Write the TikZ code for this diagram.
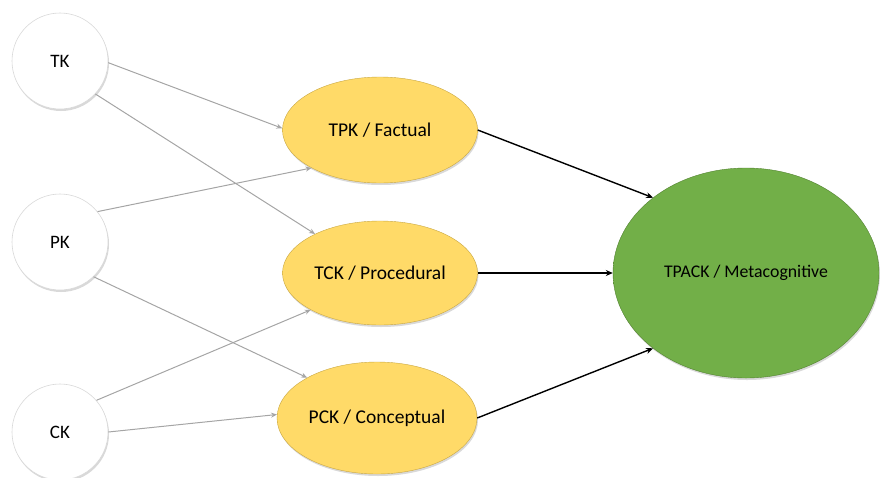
\documentclass[tikz,border=0pt]{standalone}
\usepackage{fontspec}
\setmainfont{Carlito}
\usetikzlibrary{shapes.geometric,arrows.meta,shadows}
\definecolor{ylc}{RGB}{255,218,104}
\definecolor{yle}{RGB}{236,196,78}
\definecolor{grc}{RGB}{114,175,72}
\definecolor{gre}{RGB}{96,152,56}
\definecolor{whc}{RGB}{255,255,255}
\definecolor{whe}{RGB}{232,232,232}
\definecolor{lnk}{RGB}{165,165,165}
\pgfdeclareradialshading{ylsh}{\pgfpoint{0bp}{0bp}}{color(0bp)=(ylc); color(34bp)=(ylc); color(47bp)=(yle); color(50bp)=(yle)}
\pgfdeclareradialshading{grsh}{\pgfpoint{0bp}{0bp}}{color(0bp)=(grc); color(36bp)=(grc); color(48bp)=(gre); color(50bp)=(gre)}
\pgfdeclareradialshading{whsh}{\pgfpoint{0bp}{-8bp}}{color(0bp)=(whc); color(28bp)=(whc); color(46bp)=(whe); color(50bp)=(whe)}
\tikzset{
  know/.style={circle, minimum size=96pt, inner sep=0pt, draw=gray!30, line width=0.6pt,
    shading=whsh,
    drop shadow={opacity=0.3, shadow xshift=1pt, shadow yshift=-2pt, fill=gray},
    font=\fontsize{19}{21}\selectfont},
  level/.style={ellipse, inner sep=0pt, draw=yle!85!black, line width=0.4pt,
    shading=ylsh,
    drop shadow={opacity=0.3, shadow xshift=1pt, shadow yshift=-2pt, fill=gray},
    font=\fontsize{19.5}{21}\selectfont},
  top/.style={ellipse, inner sep=0pt, minimum width=266pt, minimum height=210pt,
    draw=gre!85!black, line width=0.4pt, shading=grsh,
    drop shadow={opacity=0.3, shadow xshift=1pt, shadow yshift=-2pt, fill=gray},
    font=\fontsize{17.8}{19}\selectfont},
  thin/.style={draw=lnk, line width=1pt, -{Stealth[length=6pt,width=5pt]}},
  thick/.style={draw=black, line width=1.4pt, -{Stealth[length=7pt,width=6pt]}}
}
\begin{document}
\begin{tikzpicture}[x=1pt,y=-1pt]
\useasboundingbox (0,0) rectangle (880,477);
\node[know] (tk) at (60,61) {TK};
\node[know] (pk) at (60,242) {PK};
\node[know] (ck) at (60,432) {CK};
\node[level, minimum width=195pt, minimum height=106pt] (tpk) at (380,130) {TPK / Factual};
\node[level, minimum width=195pt, minimum height=104pt] (tck) at (380,273) {TCK / Procedural};
\node[level, minimum width=200pt, minimum height=112pt] (pck) at (377,418) {PCK / Conceptual};
\node[top] (tpack) at (746,273) {TPACK / Metacognitive};
\draw[thin] (tk.-2) -- (tpk.179);
\draw[thin] (tk.-43) -- (tck.149);
\draw[thin] (pk.39) -- (tpk.209);
\draw[thin] (pk.-46) -- (pck.150);
\draw[thin] (ck.41) -- (tck.208);
\draw[thin] (ck.0) -- (pck.178);
\draw[thick] (tpk.east) -- (tpack.141);
\draw[thick] (tck.east) -- (tpack.west);
\draw[thick] (pck.east) -- (tpack.219);
\end{tikzpicture}
\end{document}
